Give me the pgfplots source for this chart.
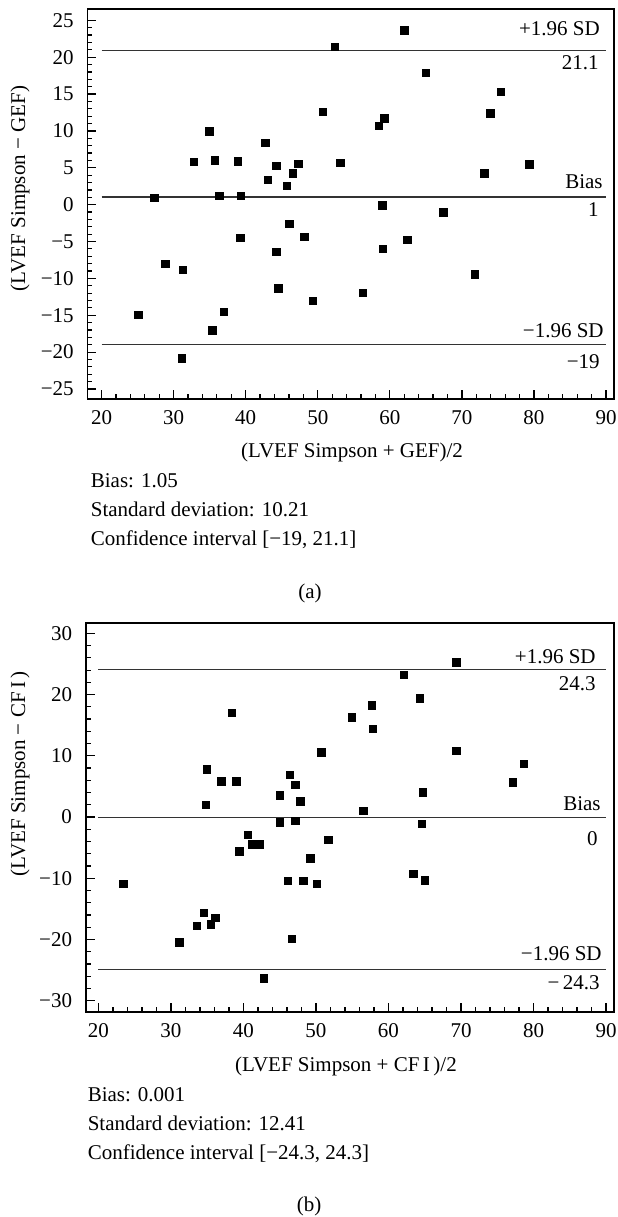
\documentclass[border=0pt]{standalone}
\usepackage{fontspec}
\setmainfont{Liberation Serif}
\usepackage{pgfplots}
\pgfplotsset{compat=1.18}

% common look of both Bland-Altman panels
\pgfplotsset{
  ba/.style={
    scale only axis,
    anchor=south west,
    clip=false,
    axis line style={line width=0.8pt},
    tick style={line width=0.6pt, black},
    tick align=inside,
    xtick pos=bottom,
    ytick pos=left,
    major tick length=4.5pt,
    minor tick length=2.4pt,
    xtick={20,30,40,50,60,70,80,90},
    xticklabels={20,30,40,50,60,70,80,90},
    minor x tick num=4,
    minor y tick num=4,
    xticklabel style={anchor=base, inner sep=0pt, yshift=-13pt},
    yticklabel style={anchor=east, inner sep=0pt, xshift=-6.7pt},
    xlabel style={anchor=base, inner sep=0pt},
    ylabel style={anchor=center, inner sep=0pt},
  },
  pts/.style={only marks, mark=square*, mark size=1.85pt, black, mark options={line width=0.1pt}},
  lim/.style={black!80, line width=0.6pt, no marks},
}
\tikzset{lbl/.style={anchor=base east, inner sep=0pt}}

\begin{document}
\fontsize{10.5}{12}\selectfont
\begin{tikzpicture}
\path[use as bounding box] (0,0) rectangle (308.5pt,608.5pt);

% ---------- (a) ----------
\begin{axis}[ba,
  at={(43.7pt,409pt)}, width=263.3pt, height=194.85pt,
  xmin=18.04, xmax=91.1, ymin=-26.36, ymax=26.5,
  ytick={-25,-20,-15,-10,-5,0,5,10,15,20,25},
  yticklabels={−25,−20,−15,−10,−5,0,5,10,15,20,25},
  xlabel={(LVEF Simpson + GEF)/2},
  xlabel style={at={(axis description cs:0.5025,-0.1514)}},
  ylabel={(LVEF Simpson − GEF)},
  ylabel style={at={(axis description cs:-0.128,0.54)}},
]
\addplot[lim] coordinates {(20,20.9) (90,20.9)};
\addplot[lim] coordinates {(20,1.04) (90,1.04)};
\addplot[lim] coordinates {(20,-18.94) (90,-18.94)};
\addplot[pts] coordinates {
(62.0,23.7) (52.3,21.4) (65.0,17.9) (75.4,15.3) (50.7,12.6) (73.9,12.4)
(59.2,11.75) (58.4,10.7) (34.9,10.0) (42.7,8.4) (32.8,5.8) (35.7,6.05)
(38.9,5.9) (44.2,5.3) (47.3,5.55) (46.5,4.3) (53.1,5.7) (79.3,5.5)
(73.1,4.3) (43.0,3.4) (45.7,2.6) (27.3,0.95) (36.3,1.2) (39.3,1.2)
(58.9,-0.05) (67.4,-1.0) (46.0,-2.6) (39.2,-4.5) (48.1,-4.3) (62.4,-4.75)
(44.2,-6.4) (59.0,-6.0) (28.8,-8.0) (31.25,-8.8) (71.8,-9.4) (44.5,-11.3)
(56.2,-11.9) (49.3,-13.0) (25.1,-14.9) (36.9,-14.5) (35.35,-17.0) (31.1,-20.8)
};
\node[lbl, xshift=-2.95pt, yshift=7.3pt] at (axis cs:90,20.9) {+1.96 SD};
\node[lbl, xshift=-3.5pt, yshift=-9.3pt] at (axis cs:90,20.9) {21.1};
\node[lbl, xshift=-1.5pt, yshift=4pt] at (axis cs:90,1.04) {Bias};
\node[lbl, xshift=-3.5pt, yshift=-9.85pt] at (axis cs:90,1.04) {1};
\node[lbl, xshift=-1pt, yshift=3.5pt] at (axis cs:90,-18.94) {−1.96 SD};
\node[lbl, xshift=-3pt, yshift=-12pt] at (axis cs:90,-18.94) {−19};
\end{axis}

\node[anchor=base west, inner sep=0pt] at (45.25pt,364.5pt) {Bias: 1.05};
\node[anchor=base west, inner sep=0pt] at (45.25pt,350pt) {Standard deviation: 10.21};
\node[anchor=base west, inner sep=0pt] at (45.25pt,335.5pt) {Confidence interval [−19, 21.1]};
\node[anchor=base, inner sep=0pt] at (155pt,309pt) {(a)};

% ---------- (b) ----------
\begin{axis}[ba,
  at={(42.9pt,102.5pt)}, width=264.1pt, height=194.5pt,
  xmin=18.26, xmax=91.1, ymin=-31.85, ymax=31.7,
  ytick={-30,-20,-10,0,10,20,30},
  yticklabels={−30,−20,−10,0,10,20,30},
  xlabel={(LVEF Simpson + CF\,I\,)/2},
  xlabel style={at={(axis description cs:0.4926,-0.1517)}},
  ylabel={(LVEF Simpson − CF\,I\,)},
  ylabel style={at={(axis description cs:-0.1246,0.612)}},
]
\addplot[lim] coordinates {(20,24.06) (90,24.06)};
\addplot[lim] coordinates {(20,-0.05) (90,-0.05)};
\addplot[lim] coordinates {(20,-24.94) (90,-24.94)};
\addplot[pts] coordinates {
(69.3,25.3) (62.1,23.3) (64.3,19.4) (38.4,17.1) (57.7,18.3) (54.9,16.3)
(57.8,14.4) (50.7,10.6) (69.3,10.9) (78.6,8.7) (34.9,7.8) (36.9,5.9)
(39.0,5.9) (46.4,6.9) (47.1,5.3) (77.1,5.7) (45.0,3.6) (47.8,2.6)
(64.7,4.1) (34.8,2.0) (56.5,1.1) (45.0,-0.8) (47.1,-0.6) (64.6,-1.1)
(40.6,-2.9) (41.1,-4.4) (42.2,-4.4) (39.4,-5.55) (51.7,-3.7) (49.2,-6.7)
(63.4,-9.25) (65.0,-10.3) (46.1,-10.4) (48.2,-10.4) (50.1,-10.9) (23.4,-10.9)
(34.5,-15.6) (33.5,-17.7) (35.5,-17.5) (36.1,-16.4) (31.1,-20.4) (46.6,-19.9)
(42.8,-26.3)
};
\node[lbl, xshift=-5pt, yshift=3.35pt] at (axis cs:90,24.06) {+1.96 SD};
\node[lbl, xshift=-5pt, yshift=-10.5pt] at (axis cs:90,24.06) {24.3};
\node[lbl, xshift=-2.5pt, yshift=3.5pt] at (axis cs:90,-0.05) {Bias};
\node[lbl, xshift=-4pt, yshift=-13.85pt] at (axis cs:90,-0.05) {0};
\node[lbl, xshift=-2pt, yshift=4.5pt] at (axis cs:90,-24.94) {−1.96 SD};
\node[lbl, xshift=-3pt, yshift=-9.8pt] at (axis cs:90,-24.94) {−\,24.3};
\end{axis}

\node[anchor=base west, inner sep=0pt] at (43.7pt,57.65pt) {Bias: 0.001};
\node[anchor=base west, inner sep=0pt] at (43.7pt,43.15pt) {Standard deviation: 12.41};
\node[anchor=base west, inner sep=0pt] at (43.7pt,28.5pt) {Confidence interval [−24.3, 24.3]};
\node[anchor=base, inner sep=0pt] at (154.5pt,2.5pt) {(b)};
\end{tikzpicture}
\end{document}
